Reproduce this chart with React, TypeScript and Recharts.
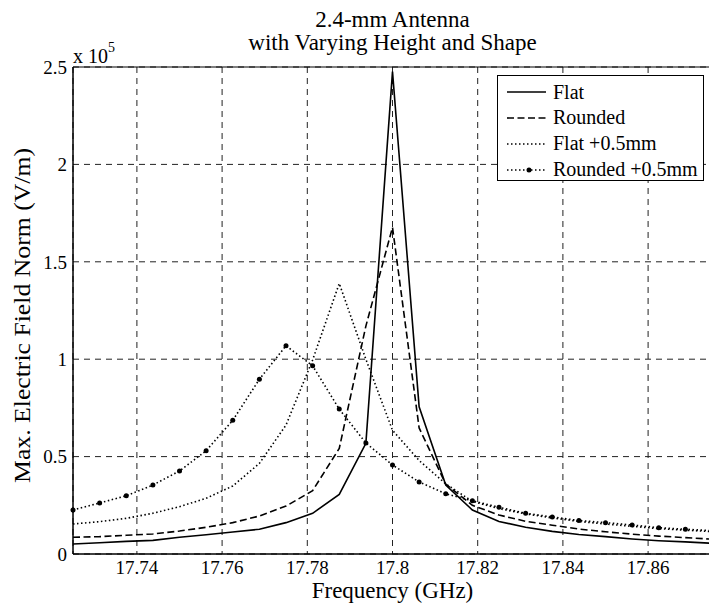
import { CartesianGrid, Label, Line, LineChart, ReferenceArea, XAxis, YAxis } from "recharts";

// frequency samples (GHz)
const freqGHz = [
  17.725, 17.73125, 17.7375, 17.74375, 17.75, 17.75625, 17.7625, 17.76875, 17.775,
  17.78125, 17.7875, 17.79375, 17.8, 17.80625, 17.8125, 17.81875, 17.825, 17.83125,
  17.8375, 17.84375, 17.85, 17.85625, 17.8625, 17.86875, 17.875,
];

// max. electric field norm (V/m)
const flat = [
  5100, 5800, 6500, 7000, 8600, 9900, 11300, 12700, 16100, 20900, 30600, 56800, 247600,
  75600, 35400, 22600, 16700, 13700, 11600, 10000, 8900, 7700, 6800, 6200, 5500,
];
const rounded = [
  8600, 8900, 9600, 10300, 11800, 13700, 16100, 19500, 24600, 32500, 54200, 117000, 167700,
  64700, 35900, 25000, 20000, 16800, 14800, 12800, 11400, 10200, 9200, 8400, 7600,
];
const flatRaised = [
  15400, 16600, 18300, 20900, 24300, 28600, 34900, 46500, 66200, 99600, 138900, 100000, 63500,
  48000, 36000, 27000, 23300, 20600, 18500, 16700, 15400, 14200, 13000, 12200, 11500,
];
const roundedRaised = [
  22600, 26200, 29900, 35400, 42600, 53000, 68600, 89700, 106900, 96600, 74400, 57000, 45700,
  37000, 30900, 27300, 24000, 20900, 19000, 17200, 16100, 14900, 13500, 12700, 12000,
];

const seriesNames = ["Flat", "Rounded", "Flat +0.5mm", "Rounded +0.5mm"];
const xTicks = [17.74, 17.76, 17.78, 17.8, 17.82, 17.84, 17.86];
const yTicks = [0, 50000, 100000, 150000, 200000, 250000];

const data = freqGHz.map((f, i) => ({
  f,
  flat: flat[i],
  rounded: rounded[i],
  flatRaised: flatRaised[i],
  roundedRaised: roundedRaised[i],
}));

const serif = "'Liberation Serif', 'Times New Roman', serif";

const lineStyles = [
  { key: "flat", dash: undefined, dot: false },
  { key: "rounded", dash: "7 3.5", dot: false },
  { key: "flatRaised", dash: "1.5 2.5", dot: false },
  { key: "roundedRaised", dash: "1.5 2.5", dot: true },
];

function LegendBox() {
  return (
    <div
      style={{
        position: "absolute",
        left: 497,
        top: 75,
        width: 205,
        height: 104,
        border: "1.3px solid #000",
        background: "#fff",
        fontFamily: serif,
        fontSize: 20,
      }}
    >
      {seriesNames.map((name, i) => (
        <div
          key={name}
          style={{ position: "absolute", left: 8, top: 3 + i * 25.9, height: 26, display: "flex", alignItems: "center", whiteSpace: "nowrap" }}
        >
          <svg width={44} height={10}>
            <line x1={1} y1={5} x2={40} y2={5} stroke="#000" strokeWidth={1.6} strokeDasharray={lineStyles[i].dash} />
            {lineStyles[i].dot && <circle cx={23} cy={5} r={2.5} fill="#000" />}
          </svg>
          <span style={{ marginLeft: 3 }}>{name}</span>
        </div>
      ))}
    </div>
  );
}

export default function App() {
  return (
    <div style={{ position: "absolute", left: 0, top: 0, width: 709, height: 607, overflow: "hidden", background: "#fff" }}>
      <LineChart width={712} height={607} data={data} margin={{ top: 67, right: 0, bottom: 0, left: 0 }}>
        <CartesianGrid stroke="#222" strokeWidth={1} strokeDasharray="6 5" />
        <XAxis
          dataKey="f"
          type="number"
          domain={[17.725, 17.875]}
          ticks={xTicks}
          tickFormatter={(v: number) => String(Number(v.toFixed(2)))}
          height={53}
          tickLine={false}
          tickSize={4}
          tickMargin={3}
          axisLine={{ stroke: "#000" }}
          tick={{ fill: "#000", fontSize: 19, fontFamily: serif }}
        >
          <Label
            content={() => (
              <text x={392.5} y={598} textAnchor="middle" fontFamily={serif} fontSize={23} fill="#000">
                Frequency (GHz)
              </text>
            )}
          />
        </XAxis>
        <YAxis
          type="number"
          domain={[0, 250000]}
          ticks={yTicks}
          tickFormatter={(v: number) => String(v / 100000)}
          width={73}
          tickLine={false}
          tickSize={4}
          tickMargin={2}
          axisLine={{ stroke: "#000" }}
          tick={{ fill: "#000", fontSize: 19, fontFamily: serif }}
        >
          <Label
            content={() => (
              <text
                x={22}
                y={315.5}
                transform="rotate(-90, 22, 315.5)"
                textAnchor="middle"
                dominantBaseline="central"
                textLength={335}
                lengthAdjust="spacingAndGlyphs"
                fontFamily={serif}
                fontSize={23}
                fill="#000"
              >
                Max. Electric Field Norm (V/m)
              </text>
            )}
          />
        </YAxis>
        <ReferenceArea x1={17.725} x2={17.875} y1={0} y2={250000} fill="none" stroke="#000" strokeWidth={1} />
        {lineStyles.map((s) => (
          <Line
            key={s.key}
            dataKey={s.key}
            stroke="#000"
            strokeWidth={1.6}
            strokeDasharray={s.dash}
            dot={s.dot ? { r: 2.5, fill: "#000", stroke: "none" } : false}
            activeDot={false}
            isAnimationActive={false}
            type="linear"
          />
        ))}
      </LineChart>
      <svg width={709} height={607} style={{ position: "absolute", left: 0, top: 0, pointerEvents: "none" }}>
        <g fontFamily={serif} fill="#000" textAnchor="middle" fontSize={23}>
          <text x={392.5} y={27}>2.4-mm Antenna</text>
          <text x={392.5} y={50}>with Varying Height and Shape</text>
        </g>
        <text x={73} y={63} fontFamily={serif} fontSize={20} fill="#000">
          x 10
        </text>
        <text x={108} y={52} fontFamily={serif} fontSize={14} fill="#000">
          5
        </text>
      </svg>
      <LegendBox />
    </div>
  );
}
